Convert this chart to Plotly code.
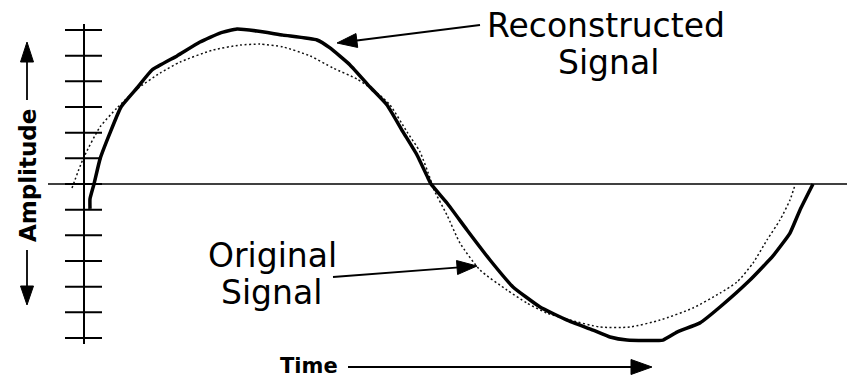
import math
import plotly.graph_objects as go

# ---- data (time in px-like units from the axis, amplitude in tick units) ----
recon_t = [6, 6, 10, 16, 26, 37, 53, 68, 93, 116, 136, 153, 173, 199, 233, 246, 266, 286,
           303, 319, 333, 344, 347, 363, 383, 406, 429, 456, 483, 509, 526, 543, 579, 593,
           616, 636, 666, 689, 706, 716, 729]
recon_a = [-0.97, -0.58, 0.0, 0.97, 1.99, 3.00, 3.74, 4.44, 4.99, 5.53, 5.88, 6.04, 5.96,
           5.80, 5.61, 5.30, 4.64, 3.78, 3.08, 2.03, 1.13, 0.23, 0.0, -0.74, -1.79, -2.96,
           -4.01, -4.79, -5.30, -5.69, -5.96, -6.08, -6.08, -5.77, -5.41, -4.79, -3.74,
           -2.80, -1.91, -1.01, 0.0]

orig_t = [-12, -1, 16, 33, 53, 76, 96, 129, 156, 176, 199, 226, 249, 273, 293, 306, 323,
          336, 346, 350, 363, 376, 396, 423, 443, 463, 486, 516, 546, 576, 609, 636, 653,
          669, 683, 696, 706, 711]
orig_a = [-0.16, 0.97, 2.22, 2.96, 3.70, 4.32, 4.75, 5.22, 5.41, 5.45, 5.34, 4.99, 4.52,
          4.09, 3.55, 3.08, 2.03, 1.25, 0.23, -0.23, -1.21, -2.30, -3.35, -4.13, -4.64,
          -5.03, -5.30, -5.57, -5.57, -5.30, -4.83, -4.25, -3.82, -3.08, -2.18, -1.40,
          -0.62, -0.04]

tick_levels = [-6, -5, -4, -3, -2, -1, 0, 1, 2, 3, 4, 5, 6]

W, H = 847, 380
X_RANGE = [-84, 763]
Y_RANGE = [-7.635, 7.168]


def P(px, py):
    return px / W, 1 - py / H


fig = go.Figure()

fig.add_trace(go.Scatter(x=orig_t, y=orig_a, mode="lines", name="Original Signal",
                         line=dict(color="#111111", width=1.5, dash="2px,2.5px",
                                   shape="spline", smoothing=0.6),
                         hoverinfo="skip"))
fig.add_trace(go.Scatter(x=recon_t, y=recon_a, mode="lines", name="Reconstructed Signal",
                         line=dict(color="black", width=3.5, shape="spline", smoothing=0.4),
                         hoverinfo="skip"))

shapes = []
# vertical axis
shapes.append(dict(type="line", xref="x", yref="y", x0=0, x1=0, y0=6.23, y1=-6.23,
                   line=dict(color="black", width=2)))
# ticks
for lv in tick_levels:
    shapes.append(dict(type="line", xref="x", yref="y", x0=-19, x1=18, y0=lv, y1=lv,
                       line=dict(color="black", width=2)))
# zero line
shapes.append(dict(type="line", xref="x", yref="y", x0=-36, x1=763, y0=0, y1=0,
                   line=dict(color="black", width=1.5)))


def arrow(tail, tip, L, hw, lw=1.8):
    tx, ty = tail
    px, py = tip
    dx, dy = px - tx, py - ty
    d = math.hypot(dx, dy)
    ux, uy = dx / d, dy / d
    bx, by = px - ux * L, py - uy * L
    nx, ny = -uy, ux
    a0 = P(tx, ty)
    a1 = P(bx + ux * 2, by + uy * 2)
    shapes.append(dict(type="line", xref="paper", yref="paper", x0=a0[0], y0=a0[1],
                       x1=a1[0], y1=a1[1], line=dict(color="black", width=lw)))
    p1 = P(px, py)
    p2 = P(bx + nx * hw, by + ny * hw)
    p3 = P(bx - nx * hw, by - ny * hw)
    path = f"M {p1[0]},{p1[1]} L {p2[0]},{p2[1]} L {p3[0]},{p3[1]} Z"
    shapes.append(dict(type="path", xref="paper", yref="paper", path=path,
                       fillcolor="black", line=dict(color="black", width=1)))


arrow((480, 25), (337, 43), 20, 7)
arrow((333, 277), (477, 266), 20, 7)
arrow((27, 100), (27, 42), 20, 6.5)
arrow((27, 250), (27, 305), 19, 6.5)
arrow((348, 367), (652, 367), 21, 7.5)

FONT = "DejaVu Sans"


def label(text, px, py, size, bold=False, angle=0):
    x, y = P(px, py)
    t = f"<b>{text}</b>" if bold else text
    fig.add_annotation(x=x, y=y, xref="paper", yref="paper", text=t, showarrow=False,
                       xanchor="center", yanchor="middle", textangle=angle,
                       font=dict(family=FONT, size=size, color="black"))


label("Reconstructed", 606, 26, 33)
label("Signal", 608, 62, 33)
label("Original", 272, 255, 33)
label("Signal", 271, 292, 33)
label("Amplitude", 28, 176, 23, bold=True, angle=-90)
label("Time", 309, 366, 21, bold=True)

fig.update_layout(
    width=W, height=H, margin=dict(l=0, r=0, t=0, b=0),
    paper_bgcolor="white", plot_bgcolor="white", showlegend=False,
    xaxis=dict(range=X_RANGE, visible=False, fixedrange=True),
    yaxis=dict(range=Y_RANGE, visible=False, fixedrange=True),
    shapes=shapes,
)

fig.write_html("out.html", config={"displayModeBar": False},
               post_script="document.body.style.margin='0';document.body.style.overflow='hidden';")
